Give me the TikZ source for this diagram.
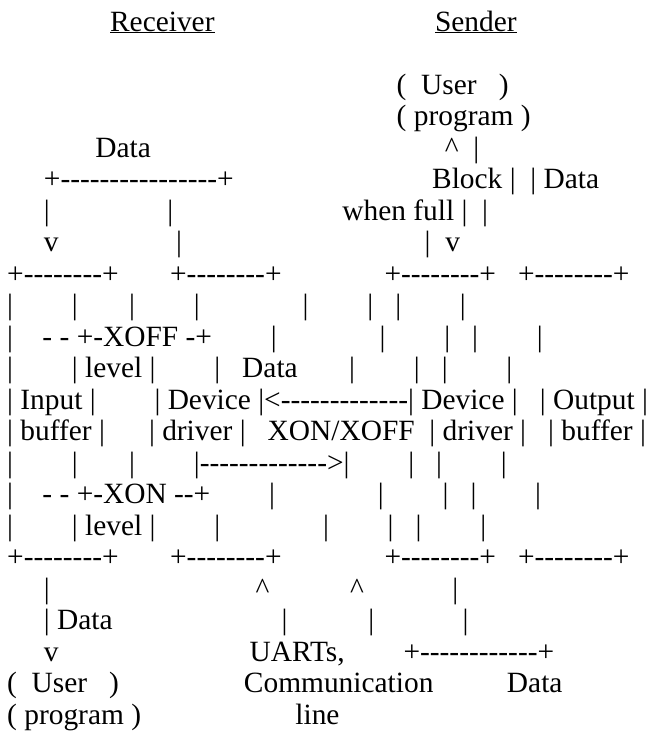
\documentclass[tikz,border=0pt]{standalone}
\usepackage{fontspec}
\setmainfont{Liberation Serif}[Ligatures={TeXOff,CommonOff}]
\frenchspacing
\newcommand\gap[1]{\hspace*{#1\fontdimen2\font}}
\tikzset{asciiline/.style={anchor=base west, inner sep=0pt, font=\fontsize{29.4}{31.5}\selectfont}}

\begin{document}
\begin{tikzpicture}[x=1pt,y=1pt]

    % 1. Page frame and left margin
    \useasboundingbox (0,0) rectangle (662,-740);
    \def\xo{7}

    % 2. Headings
    \node [asciiline] (heads) at (\xo,-31) {\gap{14}\underline{Receiver}\gap{30}\underline{Sender}};

    % 3. Sender side: user program, block / data lines
    \node [asciiline] (suser) at (\xo,-94) {\gap{53}(\gap{2}User\gap{3})};
    \node [asciiline] (sprog) at (\xo,-125.5) {\gap{53}( program )};
    \node [asciiline] (rdata) at (\xo,-157) {\gap{12}Data\gap{40}\textasciicircum\gap{2}|};
    \node [asciiline] (block) at (\xo,-188.5) {\gap{5}+----------------+\gap{27}Block |\gap{2}| Data};
    \node [asciiline] (wfull) at (\xo,-220) {\gap{5}|\gap{16}|\gap{23}when full |\gap{2}|};
    \node [asciiline] (vees) at (\xo,-251.5) {\gap{5}v\gap{16}|\gap{33}|\gap{2}v};

    % 4. The four boxes
    \node [asciiline] (boxtop) at (\xo,-283) {+--------+\gap{7}+--------+\gap{14}+--------+\gap{3}+--------+};
    \node [asciiline] (side1) at (\xo,-314.5) {|\gap{8}|\gap{7}|\gap{8}|\gap{14}|\gap{8}|\gap{3}|\gap{8}|};
    \node [asciiline] (xoff) at (\xo,-346) {|\gap{4}- - +-XOFF -+\gap{8}|\gap{14}|\gap{8}|\gap{3}|\gap{8}|};
    \node [asciiline] (lvl1) at (\xo,-377.5) {|\gap{8}| level |\gap{8}|\gap{3}Data\gap{7}|\gap{8}|\gap{3}|\gap{8}|};
    \node [asciiline] (names1) at (\xo,-409) {| Input |\gap{8}| Device |<-------------| Device |\gap{3}| Output |};
    \node [asciiline] (names2) at (\xo,-440.5) {| buffer |\gap{6}| driver |\gap{3}XON/XOFF\gap{2}| driver |\gap{3}| buffer |};
    \node [asciiline] (fwd) at (\xo,-472) {|\gap{8}|\gap{7}|\gap{8}|------------->|\gap{8}|\gap{3}|\gap{8}|};
    \node [asciiline] (xon) at (\xo,-503.5) {|\gap{4}- - +-XON --+\gap{8}|\gap{14}|\gap{8}|\gap{3}|\gap{8}|};
    \node [asciiline] (lvl2) at (\xo,-535) {|\gap{8}| level |\gap{8}|\gap{14}|\gap{8}|\gap{3}|\gap{8}|};
    \node [asciiline] (boxbot) at (\xo,-566.5) {+--------+\gap{7}+--------+\gap{14}+--------+\gap{3}+--------+};

    % 5. Below the boxes: receiver user, UARTs, data loop
    \node [asciiline] (carets) at (\xo,-598) {\gap{5}|\gap{28}\textasciicircum\gap{11}\textasciicircum\gap{12}|};
    \node [asciiline] (ddata) at (\xo,-629.5) {\gap{5}| Data\gap{23}|\gap{11}|\gap{12}|};
    \node [asciiline] (uarts) at (\xo,-661) {\gap{5}v\gap{26}UARTs,\gap{8}+------------+};
    \node [asciiline] (ruser) at (\xo,-692.5) {(\gap{2}User\gap{3})\gap{17}Communication\gap{10}Data};
    \node [asciiline] (rprog) at (\xo,-724) {( program )\gap{21}line};

\end{tikzpicture}
\end{document}
